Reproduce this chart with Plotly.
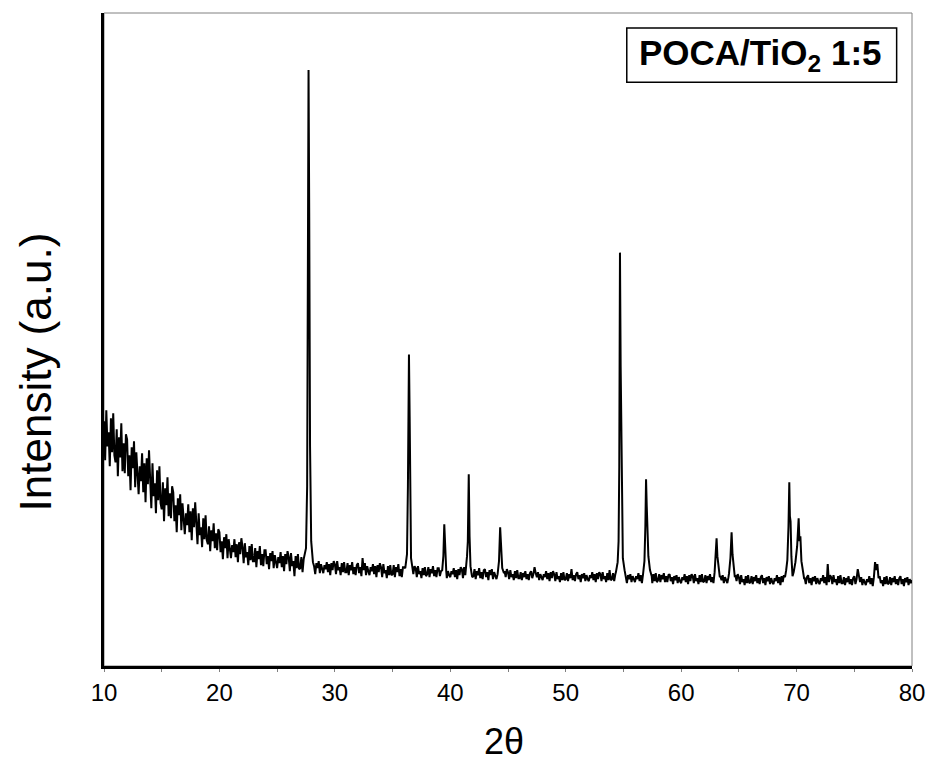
import plotly.graph_objects as go

# background counts on a 0.1 degree grid, one row per degree (10.0 ... 80.0)
bg_start = 10.0
bg_step = 0.1
bg_counts = [
    245, 206, 256, 220, 234, 200, 248, 214, 253, 211,   # 10
    204, 237, 190, 229, 209, 243, 195, 223, 193, 232,   # 11
    227, 190, 211, 176, 219, 198, 225, 179, 214, 195,   # 12
    172, 200, 185, 213, 174, 203, 164, 208, 182, 216,   # 13
    193, 158, 203, 170, 183, 153, 196, 166, 200, 163,   # 14
    157, 184, 145, 178, 161, 189, 150, 173, 148, 180,   # 15
    174, 145, 161, 134, 168, 151, 172, 136, 163, 149,   # 16
    132, 153, 141, 162, 134, 155, 126, 158, 139, 164,   # 17
    146, 122, 153, 131, 139, 119, 148, 127, 151, 126,   # 18
    122, 140, 115, 136, 125, 143, 118, 133, 116, 137,   # 19
    134, 114, 125, 107, 129, 118, 132, 108, 127, 117,   # 20
    108, 121, 114, 127, 109, 122, 104, 124, 112, 128,   # 21
    119, 103, 123, 109, 114, 101, 120, 106, 122, 105,   # 22
    105, 118, 99, 115, 107, 120, 101, 112, 100, 116,    # 23
    116, 102, 110, 97, 113, 105, 115, 98, 111, 104,     # 24
    98, 109, 103, 114, 99, 110, 95, 112, 102, 115,      # 25
    109, 95, 113, 100, 105, 90, 110, 98, 112, 97,       # 26
    98, 109, 94, 107, 112, 100, 100, 100, 100, 100,     # 27
    100, 104, 100, 92, 103, 98, 105, 93, 102, 97,       # 28
    93, 101, 97, 104, 94, 102, 91, 103, 96, 105,        # 29
    102, 92, 105, 96, 99, 91, 103, 94, 104, 94,         # 30
    94, 103, 91, 101, 96, 104, 92, 99, 91, 101,         # 31
    103, 93, 99, 90, 108, 96, 103, 91, 100, 95,         # 32
    91, 99, 95, 102, 92, 100, 89, 101, 94, 103,         # 33
    99, 89, 102, 93, 96, 88, 100, 91, 101, 91,          # 34
    92, 101, 89, 99, 94, 102, 90, 97, 89, 99,           # 35
    99, 94, 94, 94, 94, 94, 94, 94, 92, 100,            # 36
    98, 89, 100, 92, 95, 88, 98, 91, 99, 90,            # 37
    92, 99, 89, 97, 93, 100, 90, 96, 89, 98,            # 38
    98, 90, 95, 93, 93, 93, 93, 88, 95, 91,             # 39
    89, 95, 92, 98, 89, 96, 87, 97, 91, 99,             # 40
    97, 88, 99, 91, 93, 93, 93, 93, 93, 89,             # 41
    90, 97, 87, 95, 91, 98, 88, 94, 87, 96,             # 42
    97, 89, 94, 86, 96, 91, 97, 87, 94, 90,             # 43
    87, 91, 91, 91, 91, 91, 91, 95, 89, 97,             # 44
    94, 87, 96, 89, 92, 86, 95, 88, 96, 88,             # 45
    88, 94, 86, 93, 89, 95, 87, 92, 86, 93,             # 46
    95, 88, 92, 99, 93, 89, 94, 86, 92, 88,             # 47
    86, 92, 89, 95, 87, 93, 85, 94, 88, 95,             # 48
    92, 85, 94, 87, 90, 84, 93, 86, 94, 86,             # 49
    87, 93, 85, 92, 88, 97, 86, 91, 85, 92,             # 50
    94, 87, 91, 84, 92, 88, 93, 85, 91, 87,             # 51
    85, 91, 88, 94, 86, 92, 84, 93, 87, 94,             # 52
    92, 85, 94, 87, 90, 84, 93, 86, 96, 86,             # 53
    87, 93, 85, 92, 89, 89, 89, 89, 89, 89,             # 54
    88, 88, 90, 83, 91, 87, 92, 84, 90, 86,             # 55
    84, 90, 87, 93, 85, 91, 83, 88, 88, 88,             # 56
    88, 88, 88, 88, 88, 83, 92, 85, 93, 84,             # 57
    86, 92, 84, 91, 87, 93, 84, 90, 84, 91,             # 58
    92, 85, 89, 82, 90, 86, 91, 83, 89, 85,             # 59
    83, 89, 86, 92, 84, 90, 82, 91, 85, 92,             # 60
    90, 83, 92, 85, 88, 82, 91, 84, 92, 84,             # 61
    85, 91, 83, 90, 86, 92, 84, 89, 83, 90,             # 62
    87, 87, 87, 87, 90, 86, 91, 83, 89, 85,             # 63
    83, 89, 87, 87, 87, 87, 87, 91, 85, 92,             # 64
    89, 82, 91, 84, 87, 81, 90, 83, 91, 83,             # 65
    84, 90, 82, 89, 85, 91, 83, 88, 82, 89,             # 66
    91, 83, 88, 81, 89, 85, 90, 82, 88, 84,             # 67
    82, 88, 85, 91, 83, 89, 81, 90, 84, 91,             # 68
    89, 86, 86, 86, 86, 86, 86, 86, 86, 86,             # 69
    86, 86, 86, 86, 86, 86, 86, 88, 82, 89,             # 70
    91, 83, 88, 81, 89, 85, 90, 82, 88, 84,             # 71
    82, 88, 85, 91, 83, 89, 81, 102, 84, 91,            # 72
    89, 82, 91, 84, 87, 81, 90, 83, 91, 83,             # 73
    83, 89, 81, 88, 84, 90, 82, 87, 81, 88,             # 74
    90, 82, 87, 97, 88, 84, 89, 81, 87, 83,             # 75
    81, 87, 84, 90, 82, 88, 80, 89, 104, 96,            # 76
    102, 88, 90, 83, 86, 80, 89, 82, 90, 82,            # 77
    83, 89, 81, 88, 84, 90, 82, 87, 81, 88,             # 78
    90, 82, 87, 80, 88, 84, 89, 81, 87, 83,             # 79
    86,                                                 # 80
]

# reflections, sampled finely: (2theta, counts)
peaks = [
    [(27.5, 118), (27.6, 180), (27.65, 420), (27.72, 597), (27.78, 450),
     (27.85, 220), (27.95, 125), (28.05, 110)],
    [(36.1, 98), (36.25, 112), (36.33, 180), (36.42, 312), (36.48, 250),
     (36.53, 130), (36.6, 108), (36.7, 100)],
    [(39.3, 96), (39.4, 110), (39.48, 142), (39.55, 112), (39.65, 95)],
    [(41.35, 96), (41.45, 110), (41.52, 125), (41.6, 192), (41.67, 130),
     (41.75, 100), (41.85, 92)],
    [(44.1, 92), (44.22, 105), (44.32, 139), (44.4, 115), (44.5, 98), (44.65, 93)],
    [(54.35, 94), (54.5, 104), (54.58, 125), (54.64, 200), (54.7, 414),
     (54.76, 300), (54.8, 254), (54.86, 150), (54.95, 108), (55.1, 96)],
    [(56.7, 92), (56.82, 105), (56.9, 140), (56.96, 187), (57.02, 160),
     (57.08, 134), (57.16, 110), (57.3, 96), (57.45, 90)],
    [(62.9, 94), (63.0, 112), (63.07, 128), (63.14, 110), (63.25, 95), (63.35, 89)],
    [(64.15, 93), (64.27, 108), (64.37, 134), (64.45, 112), (64.55, 96), (64.65, 89)],
    [(69.1, 96), (69.2, 106), (69.3, 140), (69.37, 184), (69.42, 150),
     (69.48, 145), (69.55, 110), (69.65, 90), (69.75, 94), (69.9, 104),
     (70.05, 120), (70.18, 148), (70.25, 125), (70.33, 130), (70.42, 105),
     (70.55, 93), (70.65, 88)],
]

x_ticks = [10, 20, 30, 40, 50, 60, 70, 80]

# merge grid and peak samples, grid points inside a peak window are replaced
pts = []
windows = [(p[0][0], p[-1][0]) for p in peaks]
for i, c in enumerate(bg_counts):
    x = round(bg_start + i * bg_step, 2)
    if any(lo <= x <= hi for lo, hi in windows):
        continue
    pts.append((x, c))
for p in peaks:
    pts.extend(p)
pts.sort()
tt = [p[0] for p in pts]
yy = [p[1] for p in pts]

fig = go.Figure()
fig.add_trace(go.Scatter(x=tt, y=yy, mode='lines',
                         line=dict(color='black', width=2),
                         showlegend=False, hoverinfo='skip'))

fig.update_layout(
    width=929, height=762,
    margin=dict(l=104, r=17, t=13, b=96),
    paper_bgcolor='white', plot_bgcolor='white',
    font=dict(family='Liberation Sans, Arial, sans-serif', color='black'),
)
fig.update_xaxes(range=[10, 80], tickvals=x_ticks,
                 ticks='outside', ticklen=3, tickcolor='#808080', tickwidth=1,
                 minor=dict(dtick=5, ticks='outside', ticklen=3,
                            tickcolor='#808080', tickwidth=1),
                 tickfont=dict(family='Liberation Sans, Arial', size=24),
                 showline=True, linecolor='black', linewidth=2.5,
                 showgrid=False, zeroline=False, automargin=False)
fig.update_yaxes(range=[0, 654], showticklabels=False, ticks='',
                 showline=True, linecolor='black', linewidth=2.5,
                 showgrid=False, zeroline=False, automargin=False)

# thin grey frame on top/right
fig.add_shape(type='rect', xref='paper', yref='paper', x0=0, x1=1, y0=0, y1=1,
              line=dict(color='#808080', width=1), layer='below')
# sample label box
fig.add_shape(type='rect', xref='paper', yref='paper', x0=0.647, x1=0.981,
              y0=0.894, y1=0.977, line=dict(color='black', width=1.5),
              fillcolor='white')
fig.add_annotation(xref='paper', yref='paper', x=0.813, y=0.936,
                   text='<b>POCA/TiO<sub>2</sub> 1:5</b>', showarrow=False,
                   font=dict(size=35, family='Liberation Sans, Arial'),
                   xanchor='center', yanchor='middle')

fig.add_annotation(xref='paper', yref='paper', x=0.495, y=-0.115,
                   text='2θ', showarrow=False,
                   font=dict(size=36, family='Liberation Sans, Arial'),
                   xanchor='center', yanchor='middle')
fig.add_annotation(xref='paper', yref='paper', x=-0.085, y=0.45,
                   text='Intensity (a.u.)', showarrow=False, textangle=-90,
                   font=dict(size=44, family='Liberation Sans, Arial'),
                   xanchor='center', yanchor='middle')

# drop the default 8px page margin so the figure fills the window
fig.write_html('out.html', config={'displayModeBar': False},
               post_script="document.body.style.margin='0px';")
